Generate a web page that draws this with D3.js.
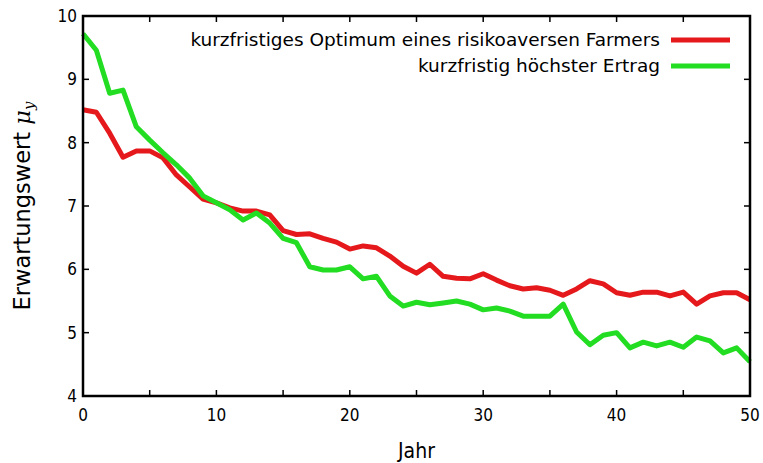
<!DOCTYPE html>
<script src="https://d3js.org/d3.v7.min.js"></script>
<body style="margin:0;background:#fff">
<script>
var years = d3.range(0, 51);
var riskAverse = [8.52, 8.48, 8.15, 7.77, 7.87, 7.87, 7.76, 7.49, 7.30, 7.11,
  7.05, 6.97, 6.92, 6.92, 6.86, 6.61, 6.55, 6.56, 6.49, 6.43,
  6.32, 6.37, 6.34, 6.21, 6.05, 5.94, 6.08, 5.89, 5.86, 5.85,
  5.93, 5.83, 5.74, 5.69, 5.71, 5.67, 5.59, 5.69, 5.82, 5.77,
  5.63, 5.59, 5.64, 5.64, 5.58, 5.64, 5.45, 5.58, 5.63, 5.63, 5.52];
var maxYield = [9.72, 9.46, 8.78, 8.83, 8.25, 8.04, 7.84, 7.65, 7.44, 7.16,
  7.05, 6.94, 6.78, 6.89, 6.73, 6.49, 6.42, 6.04, 5.99, 5.99,
  6.04, 5.85, 5.89, 5.58, 5.42, 5.48, 5.44, 5.47, 5.50, 5.45,
  5.36, 5.39, 5.34, 5.26, 5.26, 5.26, 5.45, 5.01, 4.81, 4.96,
  5.00, 4.76, 4.85, 4.79, 4.85, 4.77, 4.93, 4.87, 4.68, 4.76, 4.54];
var seriesNames = ["kurzfristiges Optimum eines risikoaversen Farmers", "kurzfristig höchster Ertrag"];
var seriesColors = ["#e5191c", "#22dd22"];
var xTicks = [0, 10, 20, 30, 40, 50];
var yTicks = [4, 5, 6, 7, 8, 9, 10];

var width = 763, height = 463;
var margin = {top: 16, right: 13, bottom: 67, left: 83};
var font = "'DejaVu Sans Condensed', 'DejaVu Sans', sans-serif";

var svg = d3.select("body").append("svg")
    .attr("width", width)
    .attr("height", height)
    .style("font-family", font);

var x = d3.scaleLinear([0, 50], [margin.left, width - margin.right]);
var y = d3.scaleLinear([4, 10], [height - margin.bottom, margin.top]);

var line = d3.line()
    .x((d, i) => x(years[i]))
    .y(d => y(d));

// lines
[riskAverse, maxYield].forEach((s, k) => {
  svg.append("path")
      .attr("fill", "none")
      .attr("stroke", seriesColors[k])
      .attr("stroke-width", 5)
      .attr("stroke-linejoin", "round")
      .attr("d", line(s));
});

// ticks (inward, on all four sides)
var tl = 6;
var tickG = svg.append("g").attr("stroke", "#000").attr("stroke-width", 1.5);
d3.range(0, 51, 5).forEach(t => {
  tickG.append("line").attr("x1", x(t)).attr("x2", x(t))
      .attr("y1", y(4)).attr("y2", y(4) - tl);
  tickG.append("line").attr("x1", x(t)).attr("x2", x(t))
      .attr("y1", y(10)).attr("y2", y(10) + tl);
});
yTicks.forEach(v => {
  tickG.append("line").attr("x1", x(0)).attr("x2", x(0) + tl)
      .attr("y1", y(v)).attr("y2", y(v));
  tickG.append("line").attr("x1", x(50)).attr("x2", x(50) - tl)
      .attr("y1", y(v)).attr("y2", y(v));
});

// frame
svg.append("rect")
    .attr("x", x(0)).attr("y", y(10))
    .attr("width", x(50) - x(0)).attr("height", y(4) - y(10))
    .attr("fill", "none").attr("stroke", "#000").attr("stroke-width", 2.5);

// tick labels
svg.append("g").selectAll("text").data(xTicks).join("text")
    .attr("x", d => x(d)).attr("y", y(4) + 25)
    .attr("text-anchor", "middle")
    .attr("font-size", 17)
    .text(d => d);
svg.append("g").selectAll("text").data(yTicks).join("text")
    .attr("x", x(0) - 6).attr("y", d => y(d) + 6)
    .attr("text-anchor", "end")
    .attr("font-size", 17)
    .text(d => d);

// axis titles
svg.append("text")
    .attr("x", (x(0) + x(50)) / 2).attr("y", 458)
    .attr("text-anchor", "middle")
    .attr("font-size", 21)
    .text("Jahr");
var yl = svg.append("text")
    .attr("transform", "translate(30," + ((y(4) + y(10)) / 2) + ") rotate(-90)")
    .attr("text-anchor", "middle")
    .attr("font-family", "'DejaVu Sans', sans-serif")
    .attr("font-size", 22.5);
yl.append("tspan").text("Erwartungswert ");
yl.append("tspan").attr("font-style", "italic").attr("font-family", "'DejaVu Serif', serif").text("μ");
yl.append("tspan").attr("font-style", "italic").attr("font-family", "'DejaVu Serif', serif")
    .attr("font-size", 15).attr("dy", 4).text("y");

// legend
var leg = svg.append("g")
    .attr("font-family", "'DejaVu Sans', sans-serif");
seriesNames.forEach((name, k) => {
  var ly = 40 + k * 26;
  leg.append("text")
      .attr("x", 660).attr("y", ly + 6)
      .attr("text-anchor", "end")
      .attr("font-size", 18.5)
      .text(name);
  leg.append("line")
      .attr("x1", 671).attr("x2", 730)
      .attr("y1", ly).attr("y2", ly)
      .attr("stroke", seriesColors[k]).attr("stroke-width", 5);
});
</script>
</body>
